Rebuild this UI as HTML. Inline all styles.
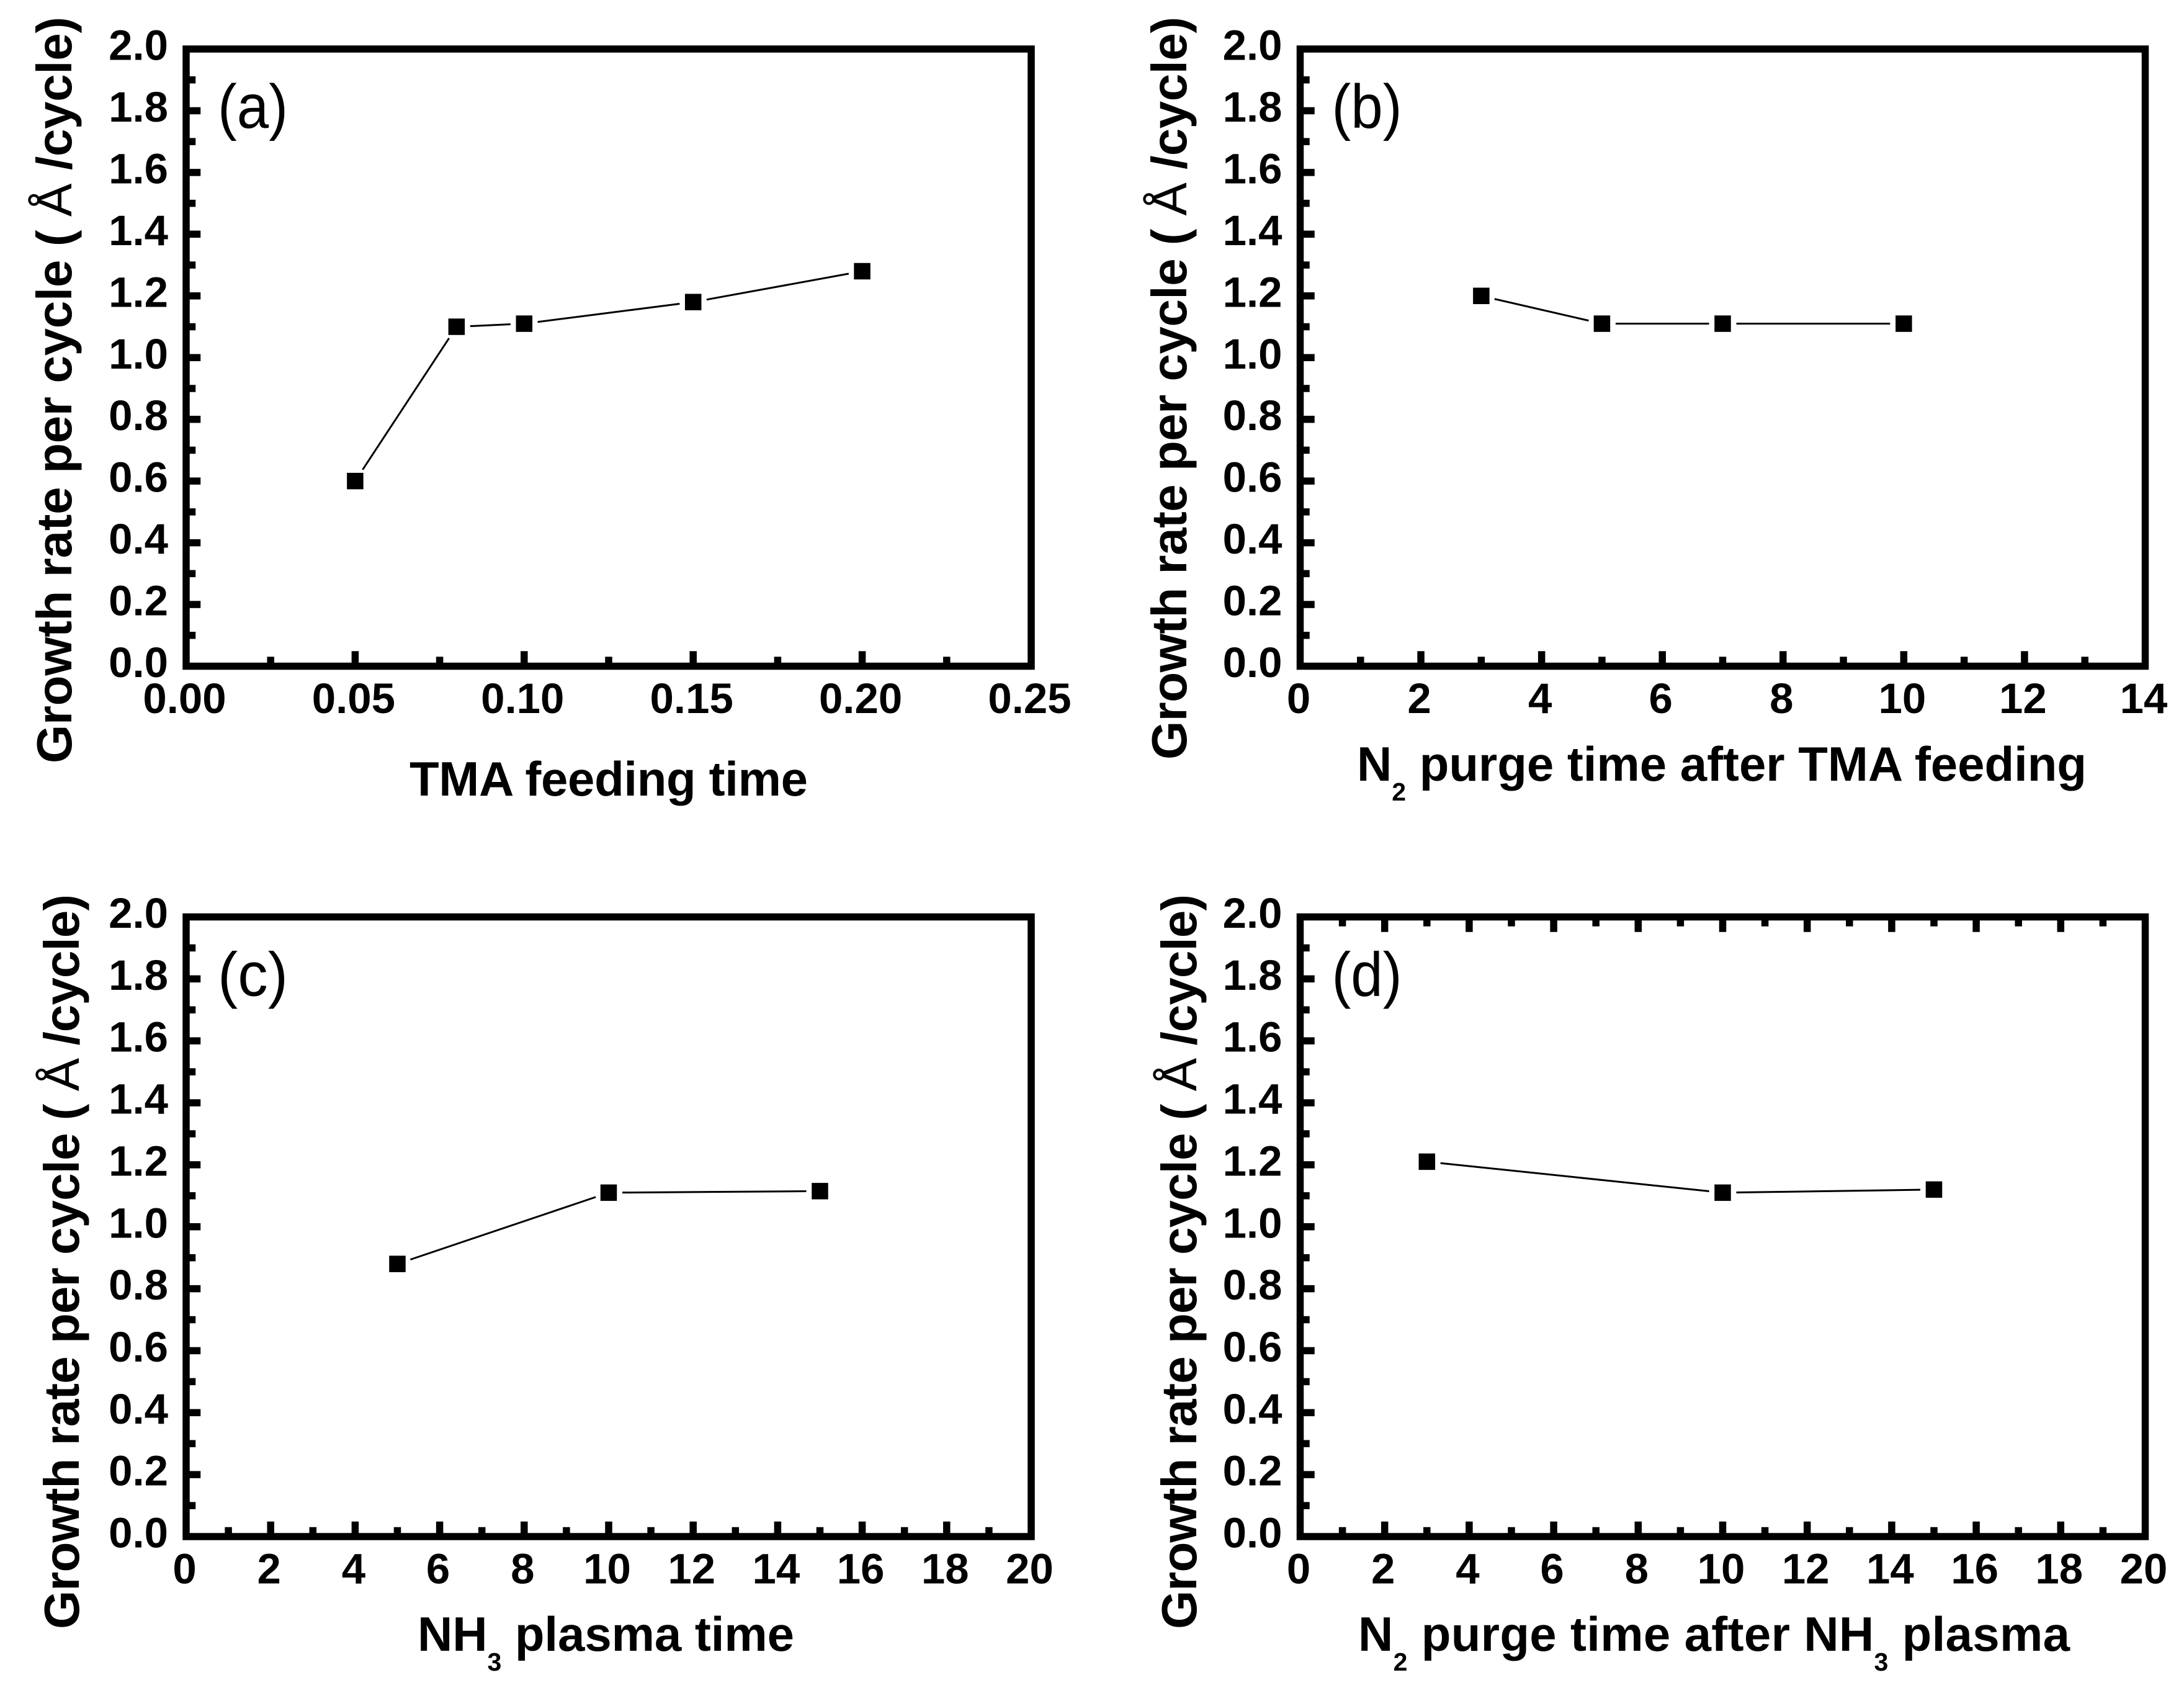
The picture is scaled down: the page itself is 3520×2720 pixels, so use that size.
<!DOCTYPE html>
<html lang="en">
<head>
<meta charset="utf-8">
<title>Growth rate per cycle panels</title>
<style>
html,body{margin:0;padding:0;background:#fff;}
svg{display:block;}
text{font-family:"Liberation Sans",sans-serif;fill:#000;}
</style>
</head>
<body>
<svg id="figure" xmlns="http://www.w3.org/2000/svg" width="3520" height="2720" viewBox="0 0 3520 2720"></svg>
<script>
// ---- data ----
const yTickLabels = ['0.0','0.2','0.4','0.6','0.8','1.0','1.2','1.4','1.6','1.8','2.0'];

const aXTickLabels = ['0.00','0.05','0.10','0.15','0.20','0.25'];
const aTimes = [0.05,0.08,0.10,0.15,0.20];
const aRates = [0.60,1.10,1.11,1.18,1.28];

const bXTickLabels = ['0','2','4','6','8','10','12','14'];
const bTimes = [3,5,7,10];
const bRates = [1.20,1.11,1.11,1.11];

const cXTickLabels = ['0','2','4','6','8','10','12','14','16','18','20'];
const cTimes = [5,10,15];
const cRates = [0.88,1.11,1.115];

const dXTickLabels = ['0','2','4','6','8','10','12','14','16','18','20'];
const dTimes = [3,10,15];
const dRates = [1.21,1.11,1.12];

// ---- layout ----
const panels = [
  {id:'a',letter:'(a)',xt:aXTickLabels,xs:aTimes,ys:aRates,left:300,top:79,bottom:1073.5,
   yTitleX:115,yTitleEnd:27,yTitleLen:1203,
   xTitle:[['TMA feeding time',0]],xTitleX:660,xTitleY:1282,xTitleLen:642,topTicks:false},
  {id:'b',letter:'(b)',xt:bXTickLabels,xs:bTimes,ys:bRates,left:2095.5,top:79,bottom:1073.5,
   yTitleX:1912,yTitleEnd:27,yTitleLen:1197,
   xTitle:[['N',0],['2',1],[' purge time after TMA feeding',0]],xTitleX:2187,xTitleY:1258,xTitleLen:1176,topTicks:false},
  {id:'c',letter:'(c)',xt:cXTickLabels,xs:cTimes,ys:cRates,left:300,top:1477.5,bottom:2476,
   yTitleX:127,yTitleEnd:1441,yTitleLen:1184,
   xTitle:[['NH',0],['3',1],[' plasma time',0]],xTitleX:673,xTitleY:2660,xTitleLen:607,topTicks:false},
  {id:'d',letter:'(d)',xt:dXTickLabels,xs:dTimes,ys:dRates,left:2095.5,top:1477.5,bottom:2476,
   yTitleX:1928,yTitleEnd:1441,yTitleLen:1184,
   xTitle:[['N',0],['2',1],[' purge time after NH',0],['3',1],[' plasma',0]],xTitleX:2189,xTitleY:2660,xTitleLen:1147,topTicks:true}
];
const plotWidth = 1362;
const axisWidth = 11.5;
const SVG_NS = 'http://www.w3.org/2000/svg';
const root = document.getElementById('figure');

function mk(tag, parent, attrs){
  const el = document.createElementNS(SVG_NS, tag);
  for (const k in attrs) el.setAttribute(k, attrs[k]);
  parent.appendChild(el);
  return el;
}

function drawPanel(p){
  const right = p.left + plotWidth;
  const xMin = parseFloat(p.xt[0]);
  const xMax = parseFloat(p.xt[p.xt.length-1]);
  const yMin = parseFloat(yTickLabels[0]);
  const yMax = parseFloat(yTickLabels[yTickLabels.length-1]);
  const xPos = v => p.left + (v - xMin) / (xMax - xMin) * plotWidth;
  const yPos = v => p.bottom - (v - yMin) / (yMax - yMin) * (p.bottom - p.top);

  const g = mk('g', root, {});
  
  

  const inner = axisWidth / 2;
  const tickW = 11.5;

  // y ticks
  yTickLabels.forEach((lab, i) => {
    const v = parseFloat(lab);
    const y = yPos(v);
    if (i > 0 && i < yTickLabels.length - 1) {
      const t = mk('rect', g, {x:p.left, y:y-tickW/2, width:inner+17.5, height:tickW, fill:'#000'});
      
      
    }
    if (i < yTickLabels.length - 1) {
      const next = parseFloat(yTickLabels[i+1]);
      const m = mk('rect', g, {x:p.left, y:yPos((v+next)/2)-tickW/2, width:inner+9.5, height:tickW, fill:'#000'});
      
      
    }
    const tx = mk('text', g, {x:p.left-29, y:y+17.5, 'text-anchor':'end', 'font-size':69, 'font-weight':'bold'});
    
    
    tx.textContent = lab;
  });

  // x ticks
  p.xt.forEach((lab, i) => {
    const v = parseFloat(lab);
    const x = xPos(v);
    const tickSets = p.topTicks ? [[p.bottom, -1], [p.top, 1]] : [[p.bottom, -1]];
    tickSets.forEach(([base, dir]) => {
      if (i > 0 && i < p.xt.length - 1) {
        const len = inner + 18.5;
        const t = mk('rect', g, {x:x-tickW/2, y:dir < 0 ? base-len : base, width:tickW, height:len, fill:'#000'});
        
        
      }
      if (i < p.xt.length - 1) {
        const next = parseFloat(p.xt[i+1]);
        const len = inner + 9.5;
        const m = mk('rect', g, {x:xPos((v+next)/2)-tickW/2, y:dir < 0 ? base-len : base, width:tickW, height:len, fill:'#000'});
        
        
      }
    });
    const tx = mk('text', g, {x:x-2.5, y:p.bottom+75.5, 'text-anchor':'middle', 'font-size':69, 'font-weight':'bold'});
    
    
    tx.textContent = lab;
  });

  // frame
  const frame = mk('rect', g, {x:p.left, y:p.top, width:plotWidth, height:p.bottom-p.top, fill:'none', stroke:'#000', 'stroke-width':axisWidth});
  
  

  // series line segments, stopped short of the markers
  const gap = 22;
  for (let i = 0; i < p.xs.length - 1; i++) {
    const x1 = xPos(p.xs[i]), y1 = yPos(p.ys[i]);
    const x2 = xPos(p.xs[i+1]), y2 = yPos(p.ys[i+1]);
    const d = Math.hypot(x2-x1, y2-y1) || 1;
    const ux = (x2-x1)/d, uy = (y2-y1)/d;
    const seg = mk('line', g, {x1:x1+ux*gap, y1:y1+uy*gap, x2:x2-ux*gap, y2:y2-uy*gap, stroke:'#000', 'stroke-width':3});
    
    
  }
  // markers
  p.xs.forEach((xv, i) => {
    const s = 26.5;
    const mark = mk('rect', g, {x:xPos(xv)-s/2, y:yPos(p.ys[i])-s/2, width:s, height:s, fill:'#000'});
    
    
  });

  // panel letter
  const letter = mk('text', g, {x:p.left+51, y:p.top+127, 'font-size':100, textLength:113, lengthAdjust:'spacingAndGlyphs'});
  
  
  letter.textContent = p.letter;

  // y title
  const cy = p.yTitleEnd + p.yTitleLen;
  const yt = mk('text', g, {transform:'translate('+p.yTitleX+' '+cy+') rotate(-90)', x:0, y:0, 'font-size':80, 'font-weight':'bold', textLength:p.yTitleLen, lengthAdjust:'spacing'});
  
  
  const t1 = mk('tspan', yt, {});
  t1.textContent = 'Growth rate per cycle ( ';
  const t2 = mk('tspan', yt, {'font-weight':'normal'});
  t2.textContent = '\u00C5';
  const t3 = mk('tspan', yt, {});
  t3.textContent = ' /cycle)';

  // x title
  const xtt = mk('text', g, {x:p.xTitleX, y:p.xTitleY, 'font-size':78, 'font-weight':'bold', textLength:p.xTitleLen, lengthAdjust:'spacing', 'xml:space':'preserve', style:'white-space:pre'});
  
  
  let shifted = false;
  p.xTitle.forEach(([str, sub]) => {
    const attrs = {};
    if (sub) { attrs['font-size'] = 41; attrs.dy = 32; shifted = true; }
    else if (shifted) { attrs.dy = -32; shifted = false; }
    const sp = mk('tspan', xtt, attrs);
    sp.textContent = str;
  });
}

panels.forEach(drawPanel);
</script>
</body>
</html>
